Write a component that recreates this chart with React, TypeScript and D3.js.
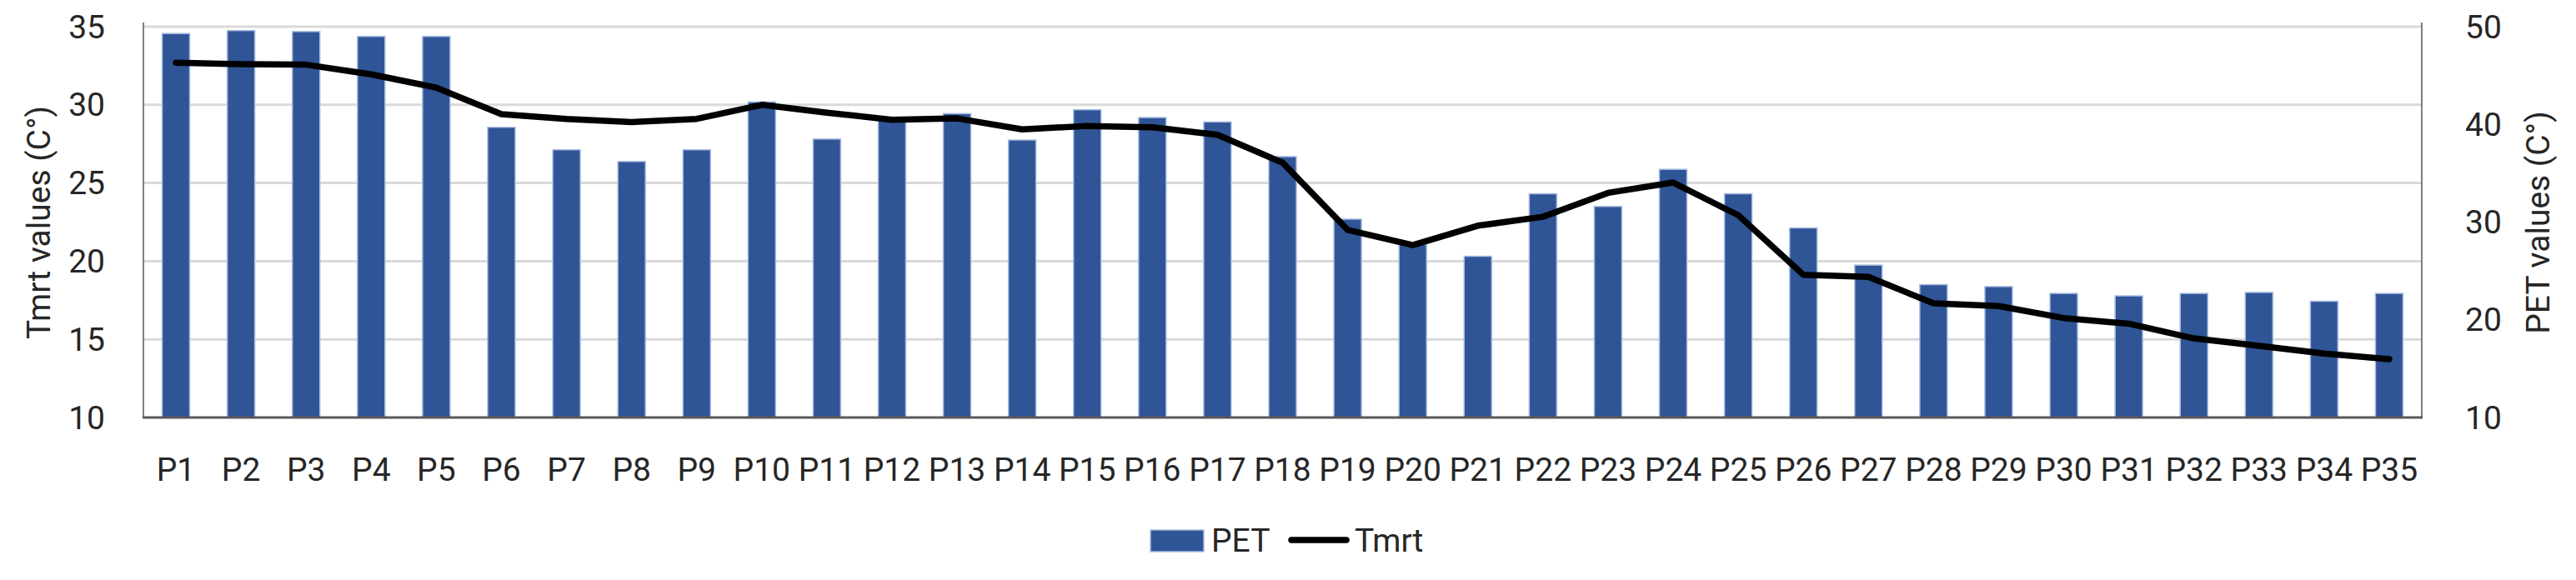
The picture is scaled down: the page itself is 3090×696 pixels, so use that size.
import React from "react";
import * as d3 from "d3";

const categories = Array.from({ length: 35 }, (_, i) => `P${i + 1}`);

const petValues = [
  49.3, 49.6, 49.5, 49.0, 49.0, 39.7, 37.4, 36.2, 37.4, 42.3,
  38.5, 40.5, 41.1, 38.4, 41.5, 40.7, 40.25, 36.7, 30.3, 27.7,
  26.5, 32.9, 31.6, 35.4, 32.9, 29.4, 25.6, 23.6, 23.4, 22.7,
  22.45, 22.7, 22.8, 21.9, 22.7,
];

const tmrtValues = [
  32.7, 32.6, 32.57, 31.95, 31.1, 29.4, 29.1, 28.9, 29.1, 30.0,
  29.5, 29.04, 29.13, 28.43, 28.65, 28.56, 28.08, 26.3, 22.0, 21.03,
  22.27, 22.84, 24.37, 25.03, 22.94, 19.13, 19.0, 17.3, 17.13, 16.36,
  16.0, 15.06, 14.58, 14.09, 13.73,
];

const leftTicks = [10, 15, 20, 25, 30, 35];
const rightTicks = [10, 20, 30, 40, 50];

const W = 3090;
const H = 696;
const FONT = "Roboto, 'Open Sans', sans-serif";
const TEXT = "#262626";
const BAR = "#2F5597";

export default function App() {
  const left = 172;
  const right = 2905;
  const top = 32;
  const bottom = 501;

  const x = d3
    .scaleBand<string>()
    .domain(categories)
    .range([left, right])
    .paddingInner(0.577)
    .paddingOuter(0.2885);
  const yL = d3.scaleLinear().domain([10, 35]).range([bottom, top]);
  const yR = d3.scaleLinear().domain([10, 50]).range([bottom, top]);

  const cx = (c: string) => (x(c) as number) + x.bandwidth() / 2;

  const line = d3
    .line<number>()
    .x((_, i) => cx(categories[i]))
    .y((d) => yL(d));

  return (
    <svg
      width={W}
      height={H}
      style={{ position: "absolute", left: 0, top: 0, background: "#fff" }}
      fontFamily={FONT}
    >
      {/* gridlines */}
      {leftTicks
        .filter((t) => t !== 10)
        .map((t) => (
          <line
            key={"g" + t}
            x1={left}
            x2={right}
            y1={yL(t)}
            y2={yL(t)}
            stroke="#D9D9D9"
            strokeWidth={3}
          />
        ))}

      {/* bars */}
      {categories.map((c, i) => (
        <rect
          key={"b" + c}
          x={x(c)}
          y={yR(petValues[i])}
          width={x.bandwidth()}
          height={bottom - yR(petValues[i])}
          fill={BAR}
          stroke="#A9BCE0"
          strokeWidth={1.5}
        />
      ))}

      {/* axes lines */}
      <line x1={left} x2={left} y1={27} y2={bottom} stroke="#7F7F7F" strokeWidth={2} />
      <line x1={right} x2={right} y1={27} y2={bottom} stroke="#7F7F7F" strokeWidth={2} />
      <line x1={left - 1} x2={right + 1} y1={bottom} y2={bottom} stroke="#595959" strokeWidth={3} />

      {/* Tmrt line */}
      <path
        d={line(tmrtValues) || ""}
        fill="none"
        stroke="#000"
        strokeWidth={7.5}
        strokeLinejoin="round"
        strokeLinecap="round"
      />

      {/* left tick labels */}
      {leftTicks.map((t) => (
        <text
          key={"lt" + t}
          x={126}
          y={yL(t)}
          dy="0.35em"
          textAnchor="end"
          fontSize={39}
          fill={TEXT}
        >
          {t}
        </text>
      ))}

      {/* right tick labels */}
      {rightTicks.map((t) => (
        <text
          key={"rt" + t}
          x={2957}
          y={yR(t)}
          dy="0.35em"
          textAnchor="start"
          fontSize={39}
          fill={TEXT}
        >
          {t}
        </text>
      ))}

      {/* x labels */}
      {categories.map((c) => (
        <text
          key={"x" + c}
          x={cx(c)}
          y={577}
          textAnchor="middle"
          fontSize={39}
          fill={TEXT}
        >
          {c}
        </text>
      ))}

      {/* axis titles */}
      <text
        transform={`translate(46,267) rotate(-90)`}
        textAnchor="middle"
        dy="0.35em"
        fontSize={39}
        fill={TEXT}
      >
        Tmrt values (C°)
      </text>
      <text
        transform={`translate(3044,267) rotate(-90)`}
        textAnchor="middle"
        dy="0.35em"
        fontSize={39}
        fill={TEXT}
      >
        PET values (C°)
      </text>

      {/* legend */}
      <rect x={1380} y={636} width={64} height={26} fill={BAR} stroke="#A9BCE0" strokeWidth={1.5} />
      <text x={1453} y={662} fontSize={39} fill={TEXT}>
        PET
      </text>
      <line x1={1549} x2={1615} y1={648} y2={648} stroke="#000" strokeWidth={7.5} strokeLinecap="round" />
      <text x={1625} y={662} fontSize={39} fill={TEXT}>
        Tmrt
      </text>
    </svg>
  );
}
